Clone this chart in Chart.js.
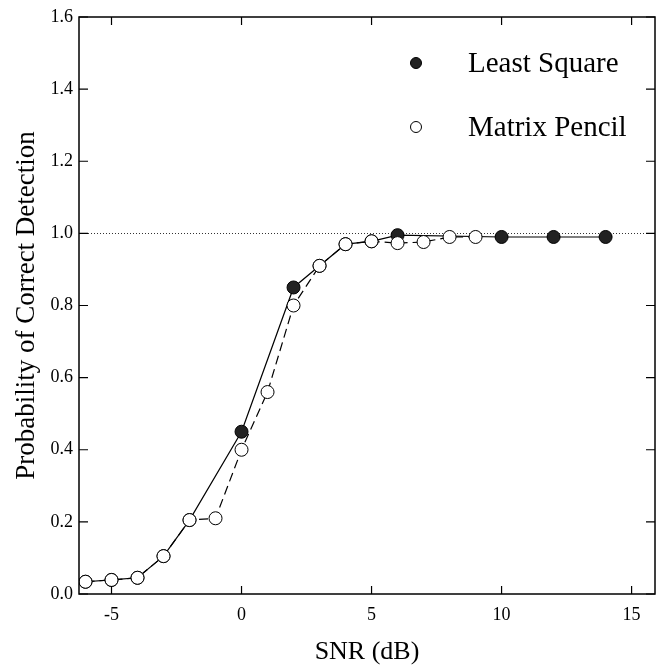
<!DOCTYPE html>
<html>
<head>
<meta charset="utf-8">
<script src="https://cdn.jsdelivr.net/npm/chart.js@4.4.1/dist/chart.umd.min.js"></script>
<style>
  html, body { margin: 0; padding: 0; background: #fff; }
</style>
</head>
<body>
<canvas id="snrChart" width="658" height="670"></canvas>
<script>
// values
const snrLeast = [-6, -5, -4, -3, -2, 0, 2, 3, 4, 5, 6, 10, 12, 14];
const probLeast = [0.034, 0.039, 0.045, 0.105, 0.205, 0.45, 0.85, 0.91, 0.97, 0.978, 0.995, 0.99, 0.99, 0.99];
const snrMatrix = [-6, -5, -4, -3, -2, -1, 0, 1, 2, 3, 4, 5, 6, 7, 8, 9];
const probMatrix = [0.034, 0.039, 0.045, 0.105, 0.205, 0.21, 0.40, 0.56, 0.80, 0.91, 0.97, 0.978, 0.973, 0.976, 0.99, 0.99];
const xTicks = [-5, 0, 5, 10, 15];
const yTicks = [0, 0.2, 0.4, 0.6, 0.8, 1.0, 1.2, 1.4, 1.6];
const seriesNames = ['Least Square', 'Matrix Pencil'];

const serif = "'Liberation Serif', 'Times New Roman', serif";

const toPoints = (xs, ys) => xs.map((x, i) => ({ x: x, y: ys[i] }));

// frame, inward ticks, dotted reference line
const framePlugin = {
    id: 'frame',
    beforeDatasetsDraw(chart) {
        const { ctx, chartArea: a, scales: { y } } = chart;
        const yy = Math.round(y.getPixelForValue(1.0)) + 0.5;
        ctx.save();
        ctx.strokeStyle = '#333';
        ctx.lineWidth = 1;
        ctx.setLineDash([1, 2]);
        ctx.beginPath();
        ctx.moveTo(a.left, yy);
        ctx.lineTo(a.right, yy);
        ctx.stroke();
        ctx.restore();
    },
    afterDraw(chart) {
        const { ctx, chartArea: a, scales: { x, y } } = chart;
        ctx.save();
        ctx.strokeStyle = '#000';
        ctx.lineWidth = 1.5;
        ctx.strokeRect(a.left, a.top, a.right - a.left, a.bottom - a.top);
        ctx.lineWidth = 1.2;
        ctx.beginPath();
        xTicks.forEach(v => {
            const px = x.getPixelForValue(v);
            ctx.moveTo(px, a.bottom); ctx.lineTo(px, a.bottom - 8);
            ctx.moveTo(px, a.top); ctx.lineTo(px, a.top + 8);
        });
        yTicks.forEach(v => {
            const py = y.getPixelForValue(v);
            ctx.moveTo(a.left, py); ctx.lineTo(a.left + 9, py);
            ctx.moveTo(a.right, py); ctx.lineTo(a.right - 9, py);
        });
        ctx.stroke();
        ctx.restore();
    }
};

// legend drawn inside the plot, top right
const legendPlugin = {
    id: 'insideLegend',
    afterDraw(chart) {
        const { ctx, chartArea: a } = chart;
        ctx.save();
        ctx.font = '29px ' + serif;
        ctx.textBaseline = 'middle';
        chart.data.datasets.forEach((ds, i) => {
            const cy = a.top + 46 + i * 64;
            const cx = a.right - 239;
            ctx.beginPath();
            ctx.arc(cx, cy, 5.5, 0, Math.PI * 2);
            ctx.fillStyle = ds.pointBackgroundColor;
            ctx.fill();
            ctx.lineWidth = 1;
            ctx.strokeStyle = '#000';
            ctx.stroke();
            ctx.fillStyle = '#000';
            ctx.fillText(seriesNames[i], cx + 52, cy + 1);
        });
        ctx.restore();
    }
};

new Chart(document.getElementById('snrChart'), {
    type: 'scatter',
    data: {
        datasets: [{
            label: seriesNames[0],
            data: toPoints(snrLeast, probLeast),
            showLine: true,
            borderColor: '#000',
            borderWidth: 1.2,
            pointRadius: 6.5,
            pointBackgroundColor: '#222',
            pointBorderColor: '#000',
            pointBorderWidth: 1,
            order: 1
        }, {
            label: seriesNames[1],
            data: toPoints(snrMatrix, probMatrix),
            showLine: true,
            borderColor: '#000',
            borderWidth: 1.2,
            borderDash: [9, 5],
            pointRadius: 6.5,
            pointBackgroundColor: '#fff',
            pointBorderColor: '#000',
            pointBorderWidth: 1,
            order: 0
        }]
    },
    options: {
        responsive: false,
        animation: false,
        devicePixelRatio: 1,
        layout: { autoPadding: false, padding: { top: 17, right: 3, left: 0, bottom: 0 } },
        plugins: {
            legend: { display: false },
            tooltip: { enabled: false }
        },
        scales: {
            x: {
                type: 'linear',
                min: -6.25,
                max: 15.9,
                afterBuildTicks: s => { s.ticks = xTicks.map(v => ({ value: v })); },
                afterFit: s => { s.height = 76; },
                grid: { display: false, drawTicks: false },
                border: { display: false },
                ticks: {
                    color: '#000',
                    padding: 10,
                    font: { family: serif, size: 18 },
                    callback: v => String(v)
                },
                title: {
                    display: true,
                    text: 'SNR (dB)',
                    color: '#000',
                    font: { family: serif, size: 26 },
                    padding: { top: 0, bottom: 2 }
                }
            },
            y: {
                min: 0,
                max: 1.6,
                afterBuildTicks: s => { s.ticks = yTicks.map(v => ({ value: v })); },
                afterFit: s => { s.width = 79; },
                grid: { display: false, drawTicks: false },
                border: { display: false },
                ticks: {
                    color: '#000',
                    padding: 6,
                    font: { family: serif, size: 18 },
                    callback: v => v.toFixed(1)
                },
                title: {
                    display: true,
                    text: 'Probability of Correct Detection',
                    color: '#000',
                    font: { family: serif, size: 27 },
                    padding: { top: 11, bottom: 0 }
                }
            }
        }
    },
    plugins: [framePlugin, legendPlugin]
});
</script>
</body>
</html>
